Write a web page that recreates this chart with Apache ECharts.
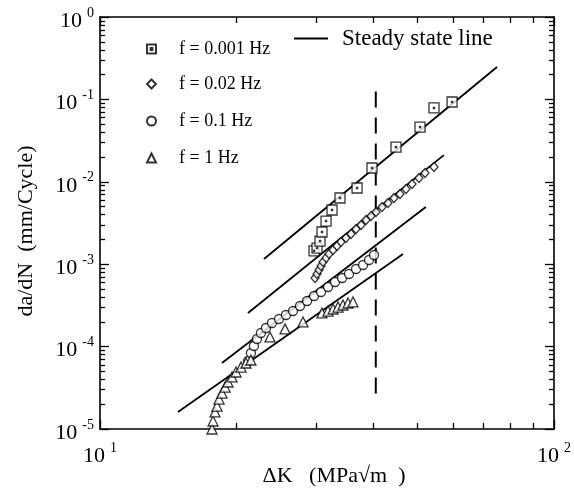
<!DOCTYPE html>
<html>
<head>
<meta charset="utf-8">
<script src="https://cdn.jsdelivr.net/npm/echarts@6/dist/echarts.min.js"></script>
<style>
  html, body { margin: 0; padding: 0; background: #fff; }
  #chart { width: 574px; height: 489px; }
</style>
</head>
<body>
<div id="chart"></div>
<script>
// ticks
const xMajor = [10, 100];
const xMinor = [20, 30, 40, 50, 60, 70, 80, 90];
const yMajor = [1e-5, 1e-4, 1e-3, 1e-2, 1e-1, 1];
const minorMult = [2, 3, 4, 5, 6, 7, 8, 9];
const yMinor = [];
yMajor.slice(0, -1).forEach(d => minorMult.forEach(m => yMinor.push(+(d * m).toPrecision(3))));

// f = 0.001 Hz (squares)
const dK_001 = [29.61, 30.06, 30.52, 30.83, 31.47, 32.44, 33.78, 36.83, 39.73, 44.87, 50.68, 54.41, 59.63];
const rate_001 = [1.45e-3, 1.57e-3, 1.91e-3, 2.46e-3, 3.34e-3, 4.55e-3, 6.36e-3, 8.41e-3, 0.0147, 0.0264, 0.0462, 0.0787, 0.093];

// f = 0.02 Hz (diamonds)
const dK_002 = [29.76, 30.06, 30.37, 30.68, 30.99, 31.47, 31.95, 32.61, 33.27, 33.95, 34.82, 35.72, 36.64,
  37.58, 38.54, 39.53, 40.55, 41.80, 43.09, 44.42, 45.79, 47.21, 48.67, 50.42, 51.98, 54.41];
const rate_002 = [6.80e-4, 7.60e-4, 8.50e-4, 9.51e-4, 1.063e-3, 1.189e-3, 1.330e-3, 1.487e-3, 1.663e-3, 1.860e-3,
  2.080e-3, 2.325e-3, 2.674e-3, 2.990e-3, 3.439e-3, 3.846e-3, 4.300e-3, 4.944e-3, 5.530e-3, 6.359e-3,
  7.110e-3, 8.177e-3, 9.40e-3, 0.01112, 0.01279, 0.01512];

// f = 0.1 Hz (circles)
const dK_01 = [21.18, 21.50, 21.83, 22.17, 22.62, 23.20, 23.92, 24.79, 25.68, 26.61, 27.57, 28.58, 29.61,
  30.68, 31.79, 32.94, 34.13, 35.36, 36.64, 37.97, 39.13, 40.14];
const rate_01 = [6.69e-5, 8.36e-5, 1.017e-4, 1.237e-4, 1.462e-4, 1.681e-4, 1.934e-4, 2.163e-4, 2.418e-4, 2.704e-4,
  3.109e-4, 3.576e-4, 4.112e-4, 4.598e-4, 5.288e-4, 6.081e-4, 6.80e-4, 7.603e-4, 8.745e-4, 9.779e-4,
  1.125e-3, 1.293e-3];

// f = 1 Hz (triangles)
const dK_1 = [17.65, 17.74, 17.92, 18.10, 18.29, 18.57, 18.86, 19.14, 19.54, 19.94, 20.45, 20.97, 21.50,
  23.68, 25.56, 28.00, 30.83, 31.79, 32.61, 33.44, 34.29, 35.18, 36.08];
const rate_1 = [1.0e-5, 1.25e-5, 1.61e-5, 1.90e-5, 2.31e-5, 2.73e-5, 3.23e-5, 3.72e-5, 4.28e-5, 4.92e-5,
  5.65e-5, 6.32e-5, 6.88e-5, 1.31e-4, 1.64e-4, 1.99e-4, 2.56e-4, 2.70e-4, 2.86e-4, 3.02e-4,
  3.20e-4, 3.38e-4, 3.48e-4];

// steady state lines (end points)
const steadyK = [[22.97, 74.9], [21.18, 57.2], [18.56, 52.2], [14.85, 46.5]];
const steadyRate = [[1.156e-3, 0.247], [2.56e-4, 0.0211], [6.32e-5, 4.94e-3], [1.61e-5, 1.33e-3]];

// dashed vertical line
const dashK = [40.5, 40.5];
const dashRate = [2.7e-5, 0.13];

const serif = '"Liberation Serif", "Times New Roman", serif';
const pts = (xs, ys) => xs.map((x, i) => [x, ys[i]]);

const supLabel = v => '{b|10}{s|' + Math.round(Math.log10(v)) + '}';
const labelRich = {
  b: { fontFamily: serif, fontSize: 22, color: '#000', lineHeight: 22, padding: [8, 0, 0, 0] },
  s: { fontFamily: serif, fontSize: 14, color: '#000', lineHeight: 14, verticalAlign: 'top', padding: [0, 0, 0, 5] }
};

const black = { color: '#000', width: 1.6 };

function xAx(grid, pos, ticks, len, main) {
  return {
    gridIndex: grid, type: 'log', logBase: 10, min: 10, max: 100, position: pos,
    axisLine: { show: main, onZero: false, lineStyle: black },
    axisTick: { show: true, inside: true, length: len, customValues: ticks, lineStyle: { color: '#000', width: 1.3 } },
    axisLabel: { show: main && pos === 'bottom', customValues: xMajor, margin: 12, formatter: supLabel, rich: labelRich },
    splitLine: { show: false }
  };
}
function yAx(grid, pos, ticks, len, main) {
  return {
    gridIndex: grid, type: 'log', logBase: 10, min: 1e-5, max: 1, position: pos,
    axisLine: { show: main, onZero: false, lineStyle: black },
    axisTick: { show: true, inside: true, length: len, customValues: ticks, lineStyle: { color: '#000', width: 1.3 } },
    axisLabel: { show: main && pos === 'left', customValues: yMajor, margin: 6, formatter: supLabel, rich: labelRich },
    splitLine: { show: false }
  };
}

const xAxes = [
  xAx(0, 'bottom', xMajor, 9, true),
  xAx(0, 'top', xMajor, 9, true),
  xAx(1, 'bottom', xMinor, 6, false),
  xAx(1, 'top', xMinor, 6, false)
];
Object.assign(xAxes[0], {
  name: 'ΔK   (MPa√m  )', nameLocation: 'middle', nameGap: 36, nameMoveOverlap: false,
  nameTextStyle: { fontFamily: serif, fontSize: 22, color: '#000', padding: [0, 0, 0, 14] }
});
const yAxes = [
  yAx(0, 'left', yMajor, 9, true),
  yAx(0, 'right', yMajor, 9, true),
  yAx(1, 'left', yMinor, 5, false),
  yAx(1, 'right', yMinor, 5, false)
];
Object.assign(yAxes[0], {
  name: 'da/dN  (mm/Cycle)', nameLocation: 'middle', nameGap: 63,
  nameTextStyle: { fontFamily: serif, fontSize: 22, color: '#000', padding: [0, 16, 0, 0] }
});

const mkLegend = (name, top, icon) => ({
  data: [icon ? { name: name, icon: icon } : name], left: 146, top: top, padding: 0,
  itemWidth: 9, itemHeight: 9, selectedMode: false,
  textStyle: { fontFamily: serif, fontSize: 18, color: '#000', padding: [12, 0, 0, 18] }
});

const markerStyle = { color: '#fff', borderColor: '#000', borderWidth: 1.3 };

const series = steadyK.map((k, i) => ({
  name: 'Steady state line', type: 'line', symbol: 'none', z: 2, color: '#000',
  data: pts(k, steadyRate[i]),
  lineStyle: { color: '#000', width: 1.8 }
}));
series.push(
  { name: 'dash', type: 'line', symbol: 'none', z: 2, data: pts(dashK, dashRate),
    lineStyle: { color: '#000', width: 2, type: [16, 10] } },
  { name: 'f = 0.001 Hz', type: 'scatter', symbol: 'rect', symbolSize: 10, z: 3,
    data: pts(dK_001, rate_001), itemStyle: markerStyle },
  { name: 'sq-dot', type: 'scatter', symbol: 'rect', symbolSize: 2.5, z: 4, silent: true,
    data: pts(dK_001, rate_001), itemStyle: { color: '#000' } },
  { name: 'f = 0.02 Hz', type: 'scatter', symbol: 'diamond', symbolSize: [8, 9], z: 3,
    data: pts(dK_002, rate_002), itemStyle: markerStyle },
  { name: 'f = 0.1 Hz', type: 'scatter', symbol: 'circle', symbolSize: 9, z: 3,
    data: pts(dK_01, rate_01), itemStyle: markerStyle },
  { name: 'f = 1 Hz', type: 'scatter', symbol: 'triangle', symbolSize: 10, z: 3,
    data: pts(dK_1, rate_1), itemStyle: markerStyle }
);

const chart = echarts.init(document.getElementById('chart'));
chart.setOption({
  animation: false,
  backgroundColor: '#fff',
  grid: [
    { left: 100, right: 20, top: 17, bottom: 60, outerBoundsMode: 'none' },
    { left: 100, right: 20, top: 17, bottom: 60, outerBoundsMode: 'none' }
  ],
  xAxis: xAxes,
  yAxis: yAxes,
  legend: [
    mkLegend('f = 0.001 Hz', 40, 'path://M0,0H10V10H0Z M4,4H6V6H4Z'),
    mkLegend('f = 0.02 Hz', 75),
    mkLegend('f = 0.1 Hz', 112),
    mkLegend('f = 1 Hz', 149),
    { data: [{ name: 'Steady state line', icon: 'rect' }], left: 294, top: 27, padding: 0,
      itemWidth: 34, itemHeight: 2, selectedMode: false,
      textStyle: { fontFamily: serif, fontSize: 23, color: '#000', padding: [0, 0, 0, 9] } }
  ],
  series: series
});
</script>
</body>
</html>
